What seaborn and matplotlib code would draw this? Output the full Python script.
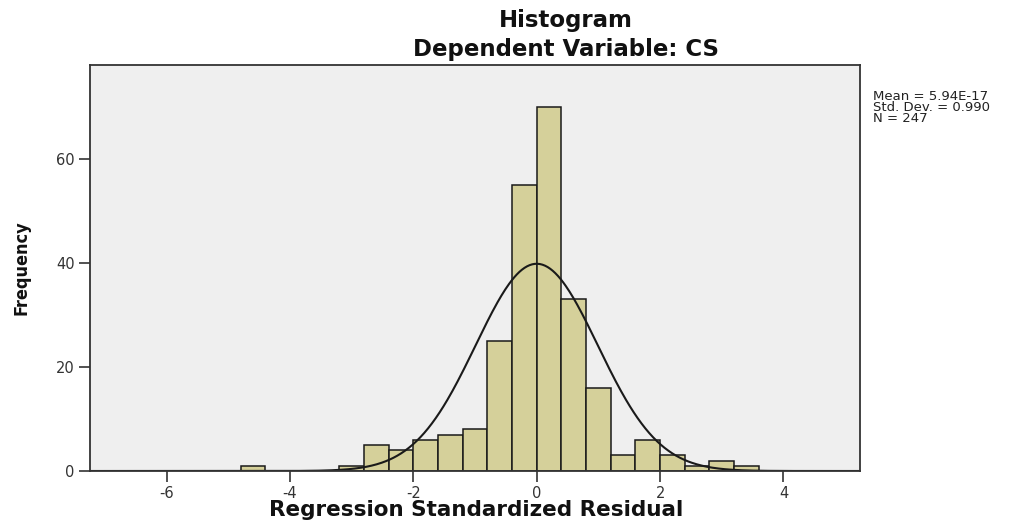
import numpy as np
import pandas as pd
import matplotlib
matplotlib.use("Agg")
import matplotlib.pyplot as plt
import seaborn as sns

# ---- data ----
bin_left_edges = [-4.8, -3.2, -2.8, -2.4, -2.0, -1.6, -1.2, -0.8, -0.4,
                  0.0, 0.4, 0.8, 1.2, 1.6, 2.0, 2.4, 2.8, 3.2]
counts = [1, 1, 5, 4, 6, 7, 8, 25, 55,
          70, 33, 16, 3, 6, 3, 1, 2, 1]
bin_width = 0.4
stat_mean = 5.94e-17
stat_sd = 0.990
stat_n = 247
x_ticks = [-6, -4, -2, 0, 2, 4]
y_ticks = [0, 20, 40, 60]
title_1 = "Histogram"
title_2 = "Dependent Variable: CS"
x_label = "Regression Standardized Residual"
y_label = "Frequency"

sns.set_theme(style="white")
plt.rcParams['font.family'] = ['DejaVu Sans']

fig = plt.figure(figsize=(10.31, 5.23), dpi=100)
ax = fig.add_axes([90/1031, 1-471/523, (860-90)/1031, (471-65)/523])
ax.set_facecolor("#EFEFEF")

df = pd.DataFrame({"center": np.array(bin_left_edges) + bin_width/2,
                   "count": np.array(counts, dtype=float)})
edges = [round(v, 6) for v in np.arange(-7.2, 5.2 + 1e-9, bin_width)]
sns.histplot(data=df, x="center", weights="count", bins=edges, ax=ax,
             color="#D5D09A", alpha=1.0, edgecolor="#1a1a1a", linewidth=1.1)

# normal curve from the stated statistics
xs = np.linspace(-7.24, 5.24, 600)
ys = stat_n * bin_width / (stat_sd*np.sqrt(2*np.pi)) * np.exp(-0.5*((xs-stat_mean)/stat_sd)**2)
sns.lineplot(x=xs, y=ys, ax=ax, color="#1a1a1a", linewidth=1.5)

ax.set_xlim(-7.24, 5.24)
ax.set_ylim(0, 78)
ax.set_xticks(x_ticks)
ax.set_xticklabels([str(t) for t in x_ticks])
ax.set_yticks(y_ticks)
ax.set_xlabel("")
ax.set_ylabel("")
ax.tick_params(axis="both", direction="out", length=8, width=1.2,
               color="#333333", labelcolor="#333333", labelsize=10.5, pad=3,
               bottom=True, left=True)
for s in ax.spines.values():
    s.set_color("#333333")
    s.set_linewidth(1.3)

fig.text(566/1031, 1-21/523, title_1, ha="center", va="center",
         fontsize=16.5, fontweight="bold", color="#111111")
fig.text(566/1031, 1-49/523, title_2, ha="center", va="center",
         fontsize=16.5, fontweight="bold", color="#111111")
fig.text(476/1031, 1-510/523, x_label, ha="center", va="center",
         fontsize=15.5, fontweight="bold", color="#111111")

fig.text(22/1031, 1-268/523, y_label, ha="center", va="center", rotation=90,
         fontsize=13, fontweight="bold", fontstretch="condensed",
         color="#111111")

stats_txt = "Mean = 5.94E-17\nStd. Dev. = 0.990\nN = 247"
fig.text(873/1031, 1-90/523, stats_txt, ha="left", va="top",
         fontsize=9.5, color="#222222", linespacing=0.82)

fig.savefig("out.png", dpi=100)
